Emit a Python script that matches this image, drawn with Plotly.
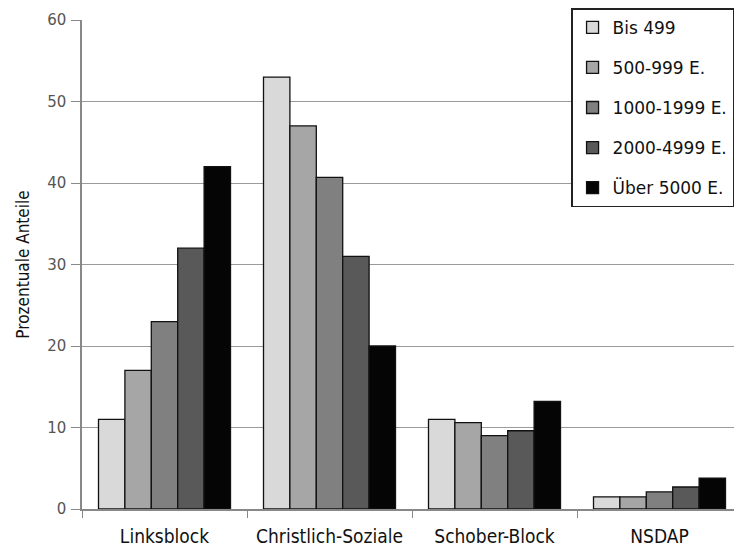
import plotly.graph_objects as go

categories = ["Linksblock", "Christlich-Soziale", "Schober-Block", "NSDAP"]
series_names = ["Bis 499", "500-999 E.", "1000-1999 E.", "2000-4999 E.", "Über 5000 E."]
values = [
    [11, 53, 11, 1.5],
    [17, 47, 10.6, 1.5],
    [23, 40.7, 9, 2.1],
    [32, 31, 9.6, 2.7],
    [42, 20, 13.2, 3.8],
]
colors = ["#d9d9d9", "#a6a6a6", "#808080", "#595959", "#050505"]
y_ticks = [0, 10, 20, 30, 40, 50, 60]

cond = "DejaVu Sans Condensed, DejaVu Sans, sans-serif"
reg = "DejaVu Sans, sans-serif"

fig = go.Figure()
for i, (name, vals) in enumerate(zip(series_names, values)):
    fig.add_trace(go.Bar(
        x=categories, y=vals, name=name,
        marker=dict(color=colors[i], line=dict(color="#111111", width=1.3)),
        legendgroup=f"g{i}",
    ))

fig.update_layout(
    width=742, height=551,
    margin=dict(l=74, r=8, t=12, b=50, autoexpand=False),
    paper_bgcolor="white", plot_bgcolor="white",
    barmode="group", bargap=0.2, bargroupgap=0,
    font=dict(family=cond, size=16, color="#222222"),
    showlegend=True,
    legend=dict(
        x=0.741, y=1.024, xanchor="left", yanchor="top",
        bgcolor="white", bordercolor="#222222", borderwidth=1.5,
        font=dict(family=reg, size=17, color="#111111"),
        tracegroupgap=15,
    ),
    xaxis=dict(
        type="category", range=[-0.5, 3.5],
        tickson="boundaries", ticks="outside", ticklen=7, tickcolor="#888888",
        ticklabelstandoff=9,
        showline=True, linecolor="#888888", linewidth=1.5,
        showgrid=False, tickfont=dict(family=cond, size=19, color="#111111"),
    ),
    yaxis=dict(
        range=[0, 60], tickvals=y_ticks,
        ticks="outside", ticklen=9, tickcolor="#888888",
        ticklabelstandoff=2,
        showline=True, linecolor="#888888", linewidth=1.5,
        showgrid=True, gridcolor="#9a9a9a", gridwidth=1.3,
        zeroline=False,
        tickfont=dict(family=reg, size=15, color="#555555"),
        title=dict(text="Prozentuale Anteile", font=dict(family=cond, size=17, color="#111111"), standoff=13),
    ),
)

fig.write_html("out.html")
